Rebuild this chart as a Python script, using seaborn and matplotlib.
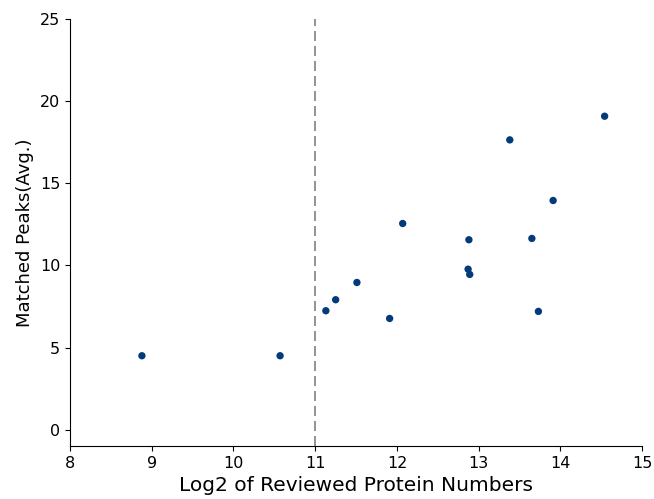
import matplotlib
matplotlib.use("Agg")
import matplotlib.pyplot as plt
import seaborn as sns
import pandas as pd

log2_proteins = [8.88, 10.57, 11.13, 11.25, 11.51, 11.91, 12.07, 12.88, 12.87, 12.89,
                 13.38, 13.65, 13.73, 13.91, 14.54]
matched_peaks = [4.5, 4.5, 7.24, 7.91, 8.96, 6.77, 12.55, 11.56, 9.77, 9.45,
                 17.64, 11.64, 7.2, 13.95, 19.08]
x_ticks = [8, 9, 10, 11, 12, 13, 14, 15]
y_ticks = [0, 5, 10, 15, 20, 25]
threshold = 11

df = pd.DataFrame({"x": log2_proteins, "y": matched_peaks})

sns.set_style("ticks")
plt.rcParams['font.family'] = ['DejaVu Sans']
fig = plt.figure(figsize=(6.54, 4.99), dpi=100)
ax = fig.add_axes([0.107, 0.106, 0.875, 0.856])
sns.scatterplot(data=df, x="x", y="y", ax=ax, color="#033a7a", s=28,
                edgecolor="none", zorder=3)
ax.axvline(threshold, color="gray", linestyle=(0, (6, 3)), linewidth=1.2, zorder=1)
ax.set_xlim(8, 15)
ax.set_ylim(-1, 25)
ax.set_xticks(x_ticks)
ax.set_yticks(y_ticks)
ax.tick_params(labelsize=11.5, colors="black")
for sp in ax.spines.values():
    sp.set_color("black")
ax.set_xlabel("Log2 of Reviewed Protein Numbers", fontsize=14.5, color="black")
ax.set_ylabel("Matched Peaks(Avg.)", fontsize=13, color="black")
sns.despine(ax=ax)
fig.savefig("out.png", dpi=100)
